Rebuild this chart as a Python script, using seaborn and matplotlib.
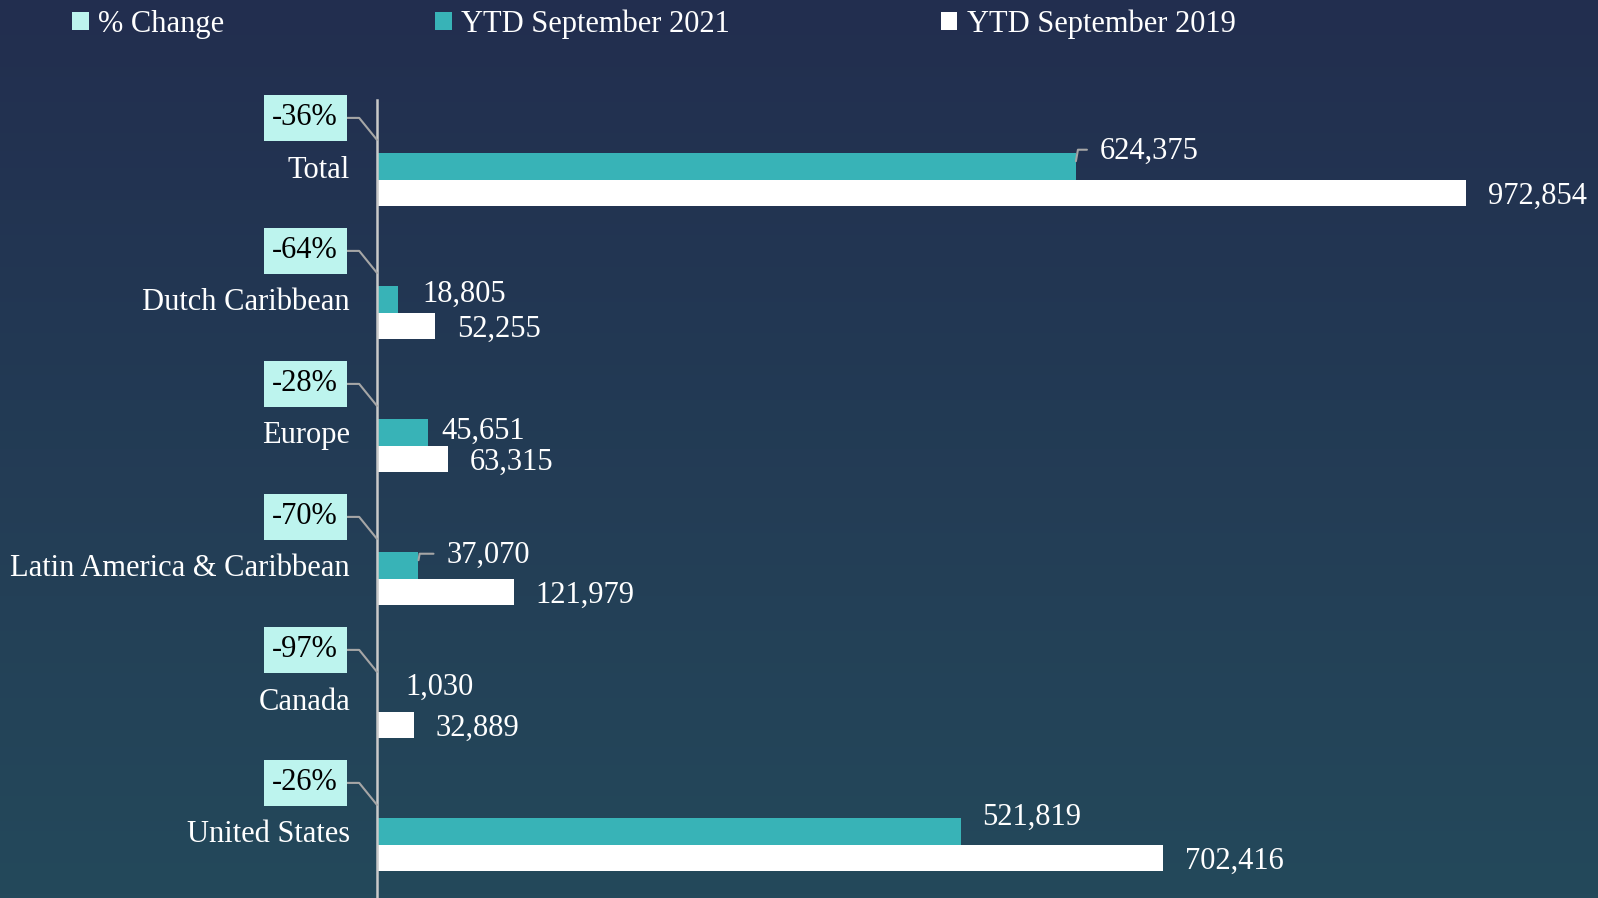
import numpy as np
import pandas as pd
import matplotlib
matplotlib.use("Agg")
import matplotlib.pyplot as plt
import seaborn as sns
from matplotlib.colors import LinearSegmentedColormap

# --- data ---
regions = ["Total", "Dutch Caribbean", "Europe", "Latin America & Caribbean", "Canada", "United States"]
ytd_2021 = [624375, 18805, 45651, 37070, 1030, 521819]
ytd_2019 = [972854, 52255, 63315, 121979, 32889, 702416]
pct_change = ["-36%", "-64%", "-28%", "-70%", "-97%", "-26%"]
series = ["% Change", "YTD September 2021", "YTD September 2019"]

# label offsets (px) for the 2021 values, as placed in the original
teal_dx = [24, 24, 13, 28, 27, 21]
teal_dy = [13, 8, 4, 8, 14, 17]
teal_leader = [True, False, False, True, False, False]

rows = []
for r, a, b in zip(regions, ytd_2021, ytd_2019):
    rows.append({"region": r, "series": series[0], "value": 0})
    rows.append({"region": r, "series": series[1], "value": a})
    rows.append({"region": r, "series": series[2], "value": b})
df = pd.DataFrame(rows)

colors = {series[0]: "#bdf4ee", series[1]: "#38b3b7", series[2]: "#ffffff"}

sns.set_theme(style="white")
plt.rcParams["font.family"] = ["Liberation Serif", "DejaVu Serif"]
FS = 22
PT = 0.72  # px -> pt at dpi 100
DY = -3    # small baseline correction (px)

fig = plt.figure(figsize=(15.98, 8.98), dpi=100)

# gradient background
bg = fig.add_axes([0, 0, 1, 1], zorder=-1)
cmap = LinearSegmentedColormap.from_list("bg", ["#222e4f", "#24495b"])
bg.imshow(np.linspace(0, 1, 256).reshape(-1, 1), aspect="auto", cmap=cmap,
          extent=[0, 1, 0, 1])
bg.set_axis_off()

ax = fig.add_axes([377 / 1598, 0, 1 - 377 / 1598, 798 / 898])
ax.set_facecolor("none")
sns.barplot(data=df, y="region", x="value", hue="series", hue_order=series,
            palette=colors, width=0.6, orient="h", ax=ax, saturation=1,
            linewidth=0)

ax.set_xlim(0, 972854 * 1221 / 1089)
ax.set_xlabel("")
ax.set_ylabel("")
ax.set_xticks([])
for s in ["top", "right", "bottom"]:
    ax.spines[s].set_visible(False)
ax.spines["left"].set_color("#c9c9c9")
ax.spines["left"].set_linewidth(1.8)
ax.tick_params(axis="y", length=0, pad=27 * PT, labelsize=FS, labelcolor="white")

handles, labels = ax.get_legend_handles_labels()
ax.get_legend().remove()

# bar containers: 0 -> % change, 1 -> 2021, 2 -> 2019
pct_bars, teal_bars, white_bars = ax.containers[0], ax.containers[1], ax.containers[2]

for i, bar in enumerate(white_bars):
    yc = bar.get_y() + bar.get_height() / 2
    ax.annotate(f"{ytd_2019[i]:,}", xy=(ytd_2019[i], yc), xytext=(22 * PT, DY * PT),
                textcoords="offset points", ha="left", va="center",
                color="white", fontsize=FS, annotation_clip=False)

for i, bar in enumerate(teal_bars):
    yc = bar.get_y() + bar.get_height() / 2
    kw = {}
    xy = (ytd_2021[i], yc)
    if teal_leader[i]:
        kw["arrowprops"] = dict(arrowstyle="-", color="#a6a6a6", lw=1.5,
                                shrinkA=7, shrinkB=0, relpos=(0, 0.55),
                                connectionstyle="angle,angleA=0,angleB=80,rad=0")
        xy = (ytd_2021[i], bar.get_y() + bar.get_height() * 0.3)
    ax.annotate(f"{ytd_2021[i]:,}", xy=xy,
                xytext=(teal_dx[i] * PT, (teal_dy[i] + DY) * PT),
                textcoords="offset points", ha="left", va="center",
                color="white", fontsize=FS, annotation_clip=False, **kw)

for i, bar in enumerate(pct_bars):
    yc = bar.get_y() + bar.get_height() / 2
    ax.annotate(pct_change[i], xy=(0, yc), xytext=(-39 * PT, 22 * PT),
                textcoords="offset points", ha="right", va="center",
                color="black", fontsize=FS, annotation_clip=False,
                bbox=dict(boxstyle="square,pad=0.28", fc=colors[series[0]], ec="none"),
                arrowprops=dict(arrowstyle="-", color="#a6a6a6", lw=1.5,
                                shrinkA=0, shrinkB=0, relpos=(1, 0.5),
                                connectionstyle="angle,angleA=0,angleB=-51,rad=0"))

fig.legend(handles, labels, loc="center left", bbox_to_anchor=(72 / 1598, 1 - 24 / 898),
           ncol=3, frameon=False, fontsize=FS, labelcolor="white",
           handlelength=0.55, handleheight=0.55, handletextpad=0.3,
           columnspacing=6.9, borderaxespad=0, borderpad=0)

fig.savefig("out.png", dpi=100)
